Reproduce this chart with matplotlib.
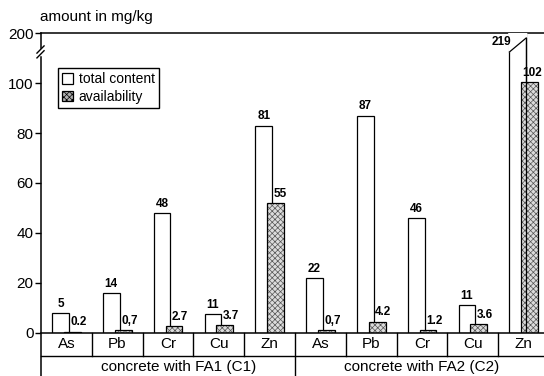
# Element contents of concrete with fly ash: total content vs. availability
import matplotlib.pyplot as plt
import matplotlib.transforms as mtransforms
import numpy as np

plt.rcParams['font.family'] = ['Liberation Sans', 'DejaVu Sans']
plt.rcParams['hatch.linewidth'] = 0.5

# data
elements = ['As', 'Pb', 'Cr', 'Cu', 'Zn', 'As', 'Pb', 'Cr', 'Cu', 'Zn']
groups = ['concrete with FA1 (C1)', 'concrete with FA2 (C2)']
total_heights = [8, 16, 48, 7.5, 83, 22, 87, 46, 11, 219]
avail_heights = [0.5, 1.1, 2.6, 3.0, 52, 1.1, 4.5, 1.0, 3.5, 102]
total_labels = ['5', '14', '48', '11', '81', '22', '87', '46', '11', '219']
avail_labels = ['0.2', '0,7', '2.7', '3.7', '55', '0,7', '4.2', '1.2', '3.6', '102']
yticks = [0, 20, 40, 60, 80, 100, 200]


# broken y axis: linear up to 100, compressed above
def fwd(v):
    v = np.asarray(v, dtype=float)
    return np.where(v <= 100, v, 100 + (v - 100) * 0.2)


def inv(d):
    d = np.asarray(d, dtype=float)
    return np.where(d <= 100, d, 100 + (d - 100) / 0.2)


fig = plt.figure(figsize=(5.44, 3.76), dpi=100)
ax = fig.add_axes([0.0754, 0.1144, 0.934, 0.7978])
ax.set_yscale('function', functions=(fwd, inv))
ax.set_ylim(0, 200)
ax.set_xlim(-0.5, len(elements) - 0.5)

x = np.arange(len(elements))
w = 0.33
off = 0.117
tbars = ax.bar(x - off, total_heights, w, color='white', edgecolor='black', linewidth=0.9)
# stippled fill: grey hatch first, black outline on top
ax.bar(x + off, avail_heights, w, color='#dcdcdc', edgecolor='#555555',
       linewidth=0, hatch='xxxxxx')
abars = ax.bar(x + off, avail_heights, w, fill=False, edgecolor='black', linewidth=0.9)

# cut the Zn (C2) bar with a slanted top
zb = tbars[-1]
x0, x1 = zb.get_x(), zb.get_x() + zb.get_width()
cut_lo, cut_hi = 162, 190
ax.fill([x0 - 0.01, x1 + 0.01, x1 + 0.01, x0 - 0.01], [cut_lo, cut_hi, 200, 200],
        color='white', zorder=3)
ax.plot([x0, x1], [cut_lo, cut_hi], color='black', lw=0.9, zorder=4)
ax.plot([x1, x1], [0, cut_hi], color='black', lw=0.9, zorder=4)

# value labels
for i, (b, lab) in enumerate(zip(tbars, total_labels)):
    if i == len(tbars) - 1:
        ax.annotate(lab, (b.get_x(), cut_lo), xytext=(1, 3), textcoords='offset points',
                    ha='right', va='bottom', fontsize=8.5, fontweight='bold')
    else:
        ax.annotate(lab, (b.get_x() + b.get_width() / 2, b.get_height()), xytext=(0, 2.5),
                    textcoords='offset points', ha='center', va='bottom',
                    fontsize=8.5, fontweight='bold')
for i, (b, lab) in enumerate(zip(abars, avail_labels)):
    lx = b.get_x() + b.get_width() / 2 - 0.04
    if i == len(abars) - 1:
        lx = b.get_x() + 0.02
    ax.annotate(lab, (lx, b.get_height()), xytext=(0, 2.5),
                textcoords='offset points', ha='left', va='bottom',
                fontsize=8.5, fontweight='bold', annotation_clip=False)

# axes styling
ax.set_yticks(yticks)
ax.set_yticklabels([str(t) for t in yticks])
ax.set_xticks([])
ax.tick_params(axis='y', labelsize=11, direction='out', length=4.5, width=1, pad=1)
for s in ['left', 'right']:
    ax.spines[s].set_visible(False)
ax.spines['top'].set_linewidth(1.1)
ax.spines['bottom'].set_linewidth(1.1)

# left spine with break marks
ax.plot([0, 0], [-0.2, 0.92], transform=ax.transAxes, color='black', lw=1.1, clip_on=False)
ax.plot([0, 0], [0.95, 1.0], transform=ax.transAxes, color='black', lw=1.1, clip_on=False)
for yb in [0.917, 0.933]:
    ax.plot([-0.008, 0.006], [yb, yb + 0.024], transform=ax.transAxes, color='black',
            lw=1.0, clip_on=False)

# category table below the axis
trans = mtransforms.blended_transform_factory(ax.transData, ax.transAxes)
row1 = -23 / 300
for i in range(len(elements) - 1):
    bottom = -0.2 if i == 4 else row1
    ax.plot([i + 0.5, i + 0.5], [0, bottom], transform=trans, color='black', lw=1.0,
            clip_on=False)
ax.plot([0, 1], [row1, row1], transform=ax.transAxes, color='black', lw=1.0, clip_on=False)
for i, el in enumerate(elements):
    ax.text(i, row1 / 2, el, transform=trans, ha='center', va='center', fontsize=11)
ax.text(2.2, -0.115, groups[0], transform=trans, ha='center', va='center', fontsize=11)
ax.text(7, -0.115, groups[1], transform=trans, ha='center', va='center', fontsize=11)

ax.legend([tbars, abars], ['total content', 'availability'], loc='upper left',
          bbox_to_anchor=(0.033, 0.883), borderaxespad=0, fontsize=10, fancybox=False,
          edgecolor='black', framealpha=1, handlelength=0.8, handleheight=0.8,
          handletextpad=0.4, labelspacing=0.25, borderpad=0.3)
# legend handle for availability should show the stipple
leg = ax.get_legend()
h = leg.legend_handles[1]
h.set_facecolor('#b0b0b0')
h.set_fill(True)
h.set_hatch('xxxxxx')

fig.text(40 / 544, 1 - 17 / 376, 'amount in mg/kg', fontsize=11, va='center', ha='left')

fig.savefig('out.png', dpi=100)
